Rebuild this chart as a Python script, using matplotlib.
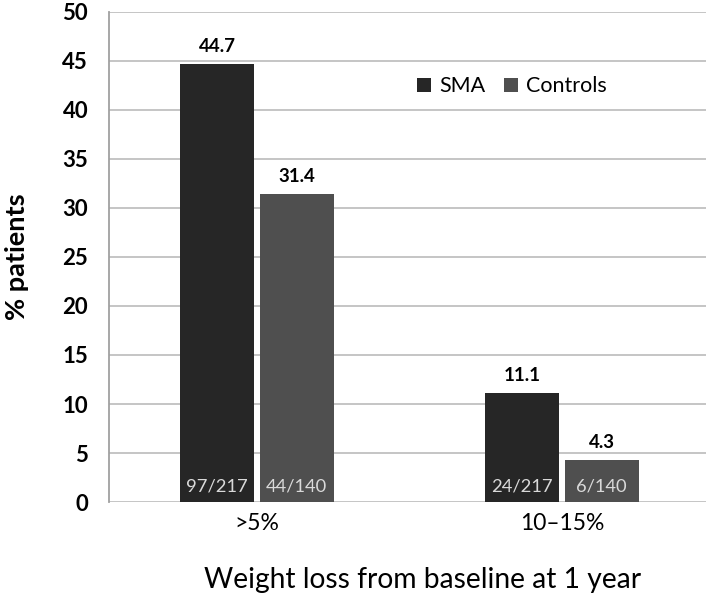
import matplotlib
matplotlib.use("Agg")
import matplotlib.pyplot as plt
import numpy as np

plt.rcParams['font.family'] = ['Lato', 'DejaVu Sans']

categories = [">5%", "10–15%"]
series = ["SMA", "Controls"]
sma_values = [44.7, 11.1]
controls_values = [31.4, 4.3]
sma_counts = ["97/217", "24/217"]
controls_counts = ["44/140", "6/140"]
yticks = [0, 5, 10, 15, 20, 25, 30, 35, 40, 45, 50]

colors = ["#262626", "#4f4f4f"]

fig = plt.figure(figsize=(7.09, 6.02), dpi=100)
ax = fig.add_axes([0.1537, 0.1661, 0.842, 0.814])

x = np.arange(len(categories))
w = 0.243
off = 0.13
b1 = ax.bar(x - off, sma_values, w, color=colors[0], label=series[0], zorder=3)
b2 = ax.bar(x + off, controls_values, w, color=colors[1], label=series[1], zorder=3)

for bars, vals, counts in [(b1, sma_values, sma_counts), (b2, controls_values, controls_counts)]:
    for r, v, c in zip(bars, vals, counts):
        cx = r.get_x() + r.get_width() / 2
        ax.text(cx, v + 0.9, f"{v:.1f}", ha="center", va="bottom", fontsize=13.5,
                fontweight="bold", color="black", zorder=4)
        ax.text(cx, 0.8, c, ha="center", va="bottom", fontsize=13.2,
                color="#d9d9d9", zorder=4)

ax.set_xlim(-0.485, 1.472)
ax.set_ylim(0, 50)
ax.set_yticks(yticks)
ax.set_yticklabels([str(t) for t in yticks], fontsize=16, fontweight="bold")
ax.set_xticks(x)
ax.set_xticklabels(categories, fontsize=16.5)
ax.tick_params(axis="both", length=0)
ax.tick_params(axis="y", pad=15)
ax.tick_params(axis="x", pad=8)

ax.grid(axis="y", color="#c0c0c0", linewidth=1.3, zorder=0)
ax.set_axisbelow(True)
for s in ["top", "right", "bottom"]:
    ax.spines[s].set_visible(False)
ax.spines["left"].set_color("#a0a0a0")
ax.spines["left"].set_linewidth(1.3)

ax.set_ylabel("% patients", fontsize=19.5, fontweight="bold", labelpad=24)
ax.set_xlabel("Weight loss from baseline at 1 year", fontsize=20.3, labelpad=24, x=0.525)

leg = ax.legend(loc="upper left", bbox_to_anchor=(0.484, 0.908), ncol=2, frameon=False,
                fontsize=15.5, handlelength=0.65, handleheight=0.65, handletextpad=0.35,
                columnspacing=0.9)

fig.savefig("out.png", dpi=100)
